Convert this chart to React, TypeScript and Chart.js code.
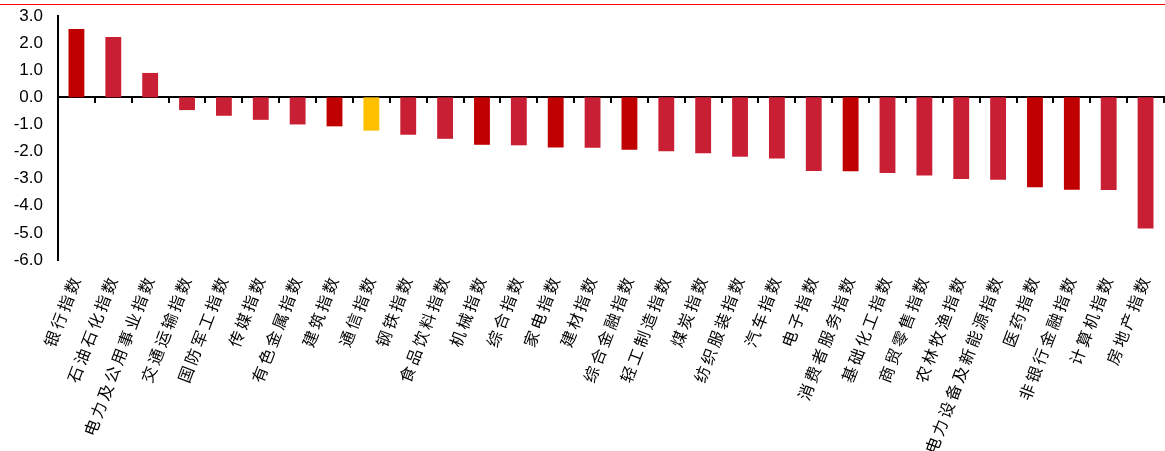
import React, { useEffect, useRef } from "react";
import { Chart, registerables } from "chart.js";

Chart.register(...registerables);

const categories = [
  "银行指数", "石油石化指数", "电力及公用事业指数", "交通运输指数", "国防军工指数",
  "传媒指数", "有色金属指数", "建筑指数", "通信指数", "钢铁指数",
  "食品饮料指数", "机械指数", "综合指数", "家电指数", "建材指数",
  "综合金融指数", "轻工制造指数", "煤炭指数", "纺织服装指数", "汽车指数",
  "电子指数", "消费者服务指数", "基础化工指数", "商贸零售指数", "农林牧渔指数",
  "电力设备及新能源指数", "医药指数", "非银行金融指数", "计算机指数", "房地产指数",
];

const values = [
  2.52, 2.23, 0.90, -0.47, -0.68,
  -0.83, -1.00, -1.07, -1.23, -1.38,
  -1.53, -1.75, -1.77, -1.85, -1.86,
  -1.93, -1.99, -2.06, -2.19, -2.26,
  -2.72, -2.73, -2.79, -2.88, -3.01,
  -3.04, -3.32, -3.41, -3.42, -4.84,
];

// group of each bar: "a" = highlighted dark, "b" = regular, "c" = focus
const groups = [
  "a", "b", "b", "b", "b",
  "b", "b", "a", "c", "b",
  "b", "a", "b", "a", "b",
  "a", "b", "b", "b", "b",
  "b", "a", "b", "b", "b",
  "b", "a", "a", "b", "b",
];

const yTicks = [3, 2, 1, 0, -1, -2, -3, -4, -5, -6];

const groupColors: Record<string, string> = {
  a: "#C00000",
  b: "#C91F34",
  c: "#FFC000",
};

const spacedLabels = {
  id: "spacedLabels",
  beforeDraw(chart: any) {
    const sx = chart.scales.x;
    if (sx && !sx.__spaced) {
      const orig = sx.drawLabels.bind(sx);
      sx.drawLabels = (area: any) => {
        const ctx = chart.ctx;
        ctx.save();
        try {
          (ctx as any).letterSpacing = "3px";
        } catch (e) {}
        orig(area);
        ctx.restore();
      };
      sx.__spaced = true;
    }
  },
};

export default function App() {
  const ref = useRef<HTMLCanvasElement | null>(null);

  useEffect(() => {
    if (!ref.current) return;
    const chart = new Chart(ref.current, {
      type: "bar",
      data: {
        labels: categories,
        datasets: [
          {
            data: values,
            backgroundColor: groups.map((g) => groupColors[g]),
            barPercentage: 0.43,
            categoryPercentage: 1,
            xAxisID: "x",
            yAxisID: "y",
          },
        ],
      },
      plugins: [spacedLabels],
      options: {
        responsive: false,
        animation: false,
        devicePixelRatio: 1,
        layout: { padding: { top: 16, right: 1, left: 0, bottom: 0 } },
        plugins: { legend: { display: false }, tooltip: { enabled: false } },
        scales: {
          x: {
            type: "category",
            position: "bottom",
            offset: true,
            grid: { display: false, drawTicks: false, offset: true },
            border: { display: false },
            ticks: {
              autoSkip: false,
              minRotation: 69,
              maxRotation: 69,
              padding: 12,
              color: "#000",
              font: { family: "'Noto Sans CJK SC'", size: 16 },
            },
            afterFit: (s: any) => {
              s.height = 191;
              s.paddingLeft = 0;
              s.paddingRight = 0;
            },
          },
          x2: {
            type: "category",
            axis: "x",
            position: { y: 0 } as any,
            offset: true,
            grid: {
              display: true,
              drawOnChartArea: false,
              drawTicks: true,
              tickLength: 5,
              offset: true,
              color: "#000",
              lineWidth: 2,
            },
            border: { display: true, color: "#000", width: 2 },
            ticks: { display: false },
            afterFit: (s: any) => {
              s.paddingLeft = 0;
              s.paddingRight = 0;
            },
          },
          y: {
            min: -6,
            max: 3,
            afterBuildTicks: (s: any) => {
              s.ticks = yTicks.map((v) => ({ value: v }));
            },
            grid: { display: false, drawTicks: true, tickLength: 11 },
            border: { display: true, color: "#000", width: 2 },
            ticks: {
              padding: 4,
              color: "#000",
              font: { family: "'Liberation Sans', Arial", size: 17 },
              callback: (v: any) => Number(v).toFixed(1),
            },
            afterFit: (s: any) => {
              s.width = 58;
            },
          },
        },
      },
    });
    chart.draw();
    return () => chart.destroy();
  }, []);

  return (
    <div style={{ position: "absolute", left: 0, top: 0, width: 1165, height: 451, background: "#fff" }}>
      <div style={{ position: "absolute", left: 0, top: 4, width: 1165, height: 1, background: "#FF0000" }} />
      <canvas ref={ref} width={1165} height={451} style={{ position: "absolute", left: 0, top: 0 }} />
    </div>
  );
}
